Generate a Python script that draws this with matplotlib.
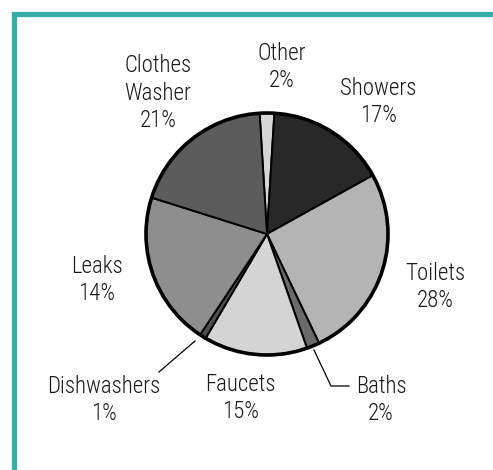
import matplotlib
matplotlib.use("Agg")
import matplotlib.pyplot as plt
from matplotlib import font_manager

# condensed-looking font if available
for _cand in ["Liberation Sans Narrow", "Roboto Condensed", "Liberation Sans"]:
    try:
        font_manager.findfont(_cand, fallback_to_default=False)
        plt.rcParams["font.family"] = [_cand, "DejaVu Sans"]
        break
    except Exception:
        continue

W, H = 493, 470

# slice order clockwise starting at "Other"
names = ["Other", "Showers", "Toilets", "Baths", "Faucets", "Dishwashers", "Leaks", "Clothes\nWasher"]
pct_labels = ["2%", "17%", "28%", "2%", "15%", "1%", "14%", "21%"]
# slice sizes as drawn in the picture (degrees of arc)
arc_deg = [7.0, 57.5, 93.5, 6.2, 49.8, 3.1, 73.9, 69.0]
grays = ["#d6d6d6", "#282828", "#b4b4b4", "#6a6a6a", "#d4d4d4", "#505050", "#8e8e8e", "#5c5c5c"]

fig = plt.figure(figsize=(W / 100, H / 100), dpi=100)
ax = fig.add_axes([0, 0, 1, 1])

cx, cy, r = 267, H - 234, 121
ax.pie(arc_deg, colors=grays, startangle=93.5, counterclock=False,
       center=(cx, cy), radius=r,
       wedgeprops=dict(edgecolor="black", linewidth=1.4))
ax.add_patch(plt.Circle((cx, cy), r, fill=False, edgecolor="black", linewidth=2.6, zorder=5))

# label anchor points (pixel centers, image y downwards)
label_xy = {
    "Other": (282, 67),
    "Showers": (378, 102),
    "Toilets": (435, 287),
    "Baths": (381, 400),
    "Faucets": (240, 398),
    "Dishwashers": (104, 400),
    "Leaks": (97, 280),
    "Clothes\nWasher": (158, 93),
}
for n, p in zip(names, pct_labels):
    x, y = label_xy[n]
    ax.text(x, H - y, f"{n}\n{p}", ha="center", va="center", fontsize=16.5,
            fontweight="light", linespacing=1.25, color="#1a1a1a")

# leader lines for the thin slices
ax.plot([159, 195], [H - 372, H - 341], color="black", lw=0.9)
ax.plot([314, 331, 349], [H - 350, H - 386, H - 386], color="black", lw=0.9)

# teal frame (top and left edges)
ax.plot([13.5, 13.5, W + 2], [-2, H - 13.5, H - 13.5], color="#38ada9", lw=3.8,
        solid_joinstyle="miter", solid_capstyle="butt")

ax.set_xlim(0, W)
ax.set_ylim(0, H)
ax.set_aspect("auto")
ax.axis("off")
fig.savefig("out.png", dpi=100, facecolor="white")
